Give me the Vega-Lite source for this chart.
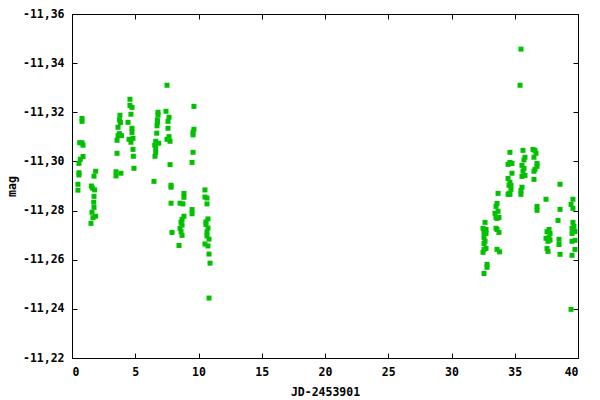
{
  "$schema": "https://vega.github.io/schema/vega-lite/v6.json",
  "autosize": {"type": "none"},
  "padding": {"left": 72, "top": 14, "right": 22, "bottom": 42},
  "width": 506,
  "height": 344,
  "background": "white",
  "config": {
    "view": {"stroke": "black", "strokeWidth": 1},
    "axis": {
      "labelFont": "DejaVu Sans Mono", "labelFontWeight": "bold", "labelFontSize": 11.5, "labelColor": "black",
      "titleFont": "DejaVu Sans Mono", "titleFontWeight": "bold", "titleFontSize": 11.5, "titleColor": "black",
      "grid": false, "domain": false, "tickColor": "black", "tickSize": -5, "tickWidth": 1
    }
  },
  "data": {"values": [
    {"jd": 0.79, "mag": -11.3175}, {"jd": 0.79, "mag": -11.3163}, {"jd": 0.61, "mag": -11.3076}, {"jd": 0.79, "mag": -11.3076},
    {"jd": 0.87, "mag": -11.3066}, {"jd": 0.87, "mag": -11.3020}, {"jd": 0.66, "mag": -11.3009}, {"jd": 0.55, "mag": -11.2992},
    {"jd": 0.55, "mag": -11.2954}, {"jd": 0.55, "mag": -11.2945}, {"jd": 0.47, "mag": -11.2907}, {"jd": 0.47, "mag": -11.2883},
    {"jd": 1.87, "mag": -11.2960}, {"jd": 1.74, "mag": -11.2940}, {"jd": 1.53, "mag": -11.2900}, {"jd": 1.61, "mag": -11.2891},
    {"jd": 1.79, "mag": -11.2884}, {"jd": 1.74, "mag": -11.2858}, {"jd": 1.72, "mag": -11.2834}, {"jd": 1.74, "mag": -11.2813},
    {"jd": 1.58, "mag": -11.2793}, {"jd": 1.87, "mag": -11.2777}, {"jd": 1.66, "mag": -11.2771}, {"jd": 1.50, "mag": -11.2748},
    {"jd": 3.79, "mag": -11.3188}, {"jd": 3.75, "mag": -11.3169}, {"jd": 3.83, "mag": -11.3158}, {"jd": 3.64, "mag": -11.3139},
    {"jd": 3.75, "mag": -11.3113}, {"jd": 3.91, "mag": -11.3105}, {"jd": 3.64, "mag": -11.3105}, {"jd": 3.56, "mag": -11.3086},
    {"jd": 3.56, "mag": -11.3033}, {"jd": 3.48, "mag": -11.2958}, {"jd": 3.48, "mag": -11.2941}, {"jd": 3.87, "mag": -11.2952},
    {"jd": 4.58, "mag": -11.3253}, {"jd": 4.58, "mag": -11.3228}, {"jd": 4.74, "mag": -11.3220}, {"jd": 4.66, "mag": -11.3192},
    {"jd": 4.43, "mag": -11.3159}, {"jd": 4.74, "mag": -11.3135}, {"jd": 4.74, "mag": -11.3118}, {"jd": 4.51, "mag": -11.3090},
    {"jd": 4.82, "mag": -11.3094}, {"jd": 4.66, "mag": -11.3078}, {"jd": 4.82, "mag": -11.3049}, {"jd": 4.85, "mag": -11.3021},
    {"jd": 4.90, "mag": -11.2972},
    {"jd": 6.80, "mag": -11.3200}, {"jd": 6.80, "mag": -11.3189}, {"jd": 6.75, "mag": -11.3169}, {"jd": 6.75, "mag": -11.3159},
    {"jd": 6.72, "mag": -11.3145}, {"jd": 6.70, "mag": -11.3115}, {"jd": 6.62, "mag": -11.3082}, {"jd": 6.85, "mag": -11.3074},
    {"jd": 6.54, "mag": -11.3066}, {"jd": 6.62, "mag": -11.3053}, {"jd": 6.62, "mag": -11.3037}, {"jd": 6.56, "mag": -11.3021},
    {"jd": 6.48, "mag": -11.2919},
    {"jd": 7.51, "mag": -11.3310}, {"jd": 7.43, "mag": -11.3204}, {"jd": 7.67, "mag": -11.3180}, {"jd": 7.59, "mag": -11.3163},
    {"jd": 7.59, "mag": -11.3135}, {"jd": 7.67, "mag": -11.3101}, {"jd": 7.51, "mag": -11.3090}, {"jd": 7.75, "mag": -11.3082},
    {"jd": 7.75, "mag": -11.2987}, {"jd": 7.83, "mag": -11.2903}, {"jd": 7.83, "mag": -11.2895}, {"jd": 7.83, "mag": -11.2830},
    {"jd": 7.91, "mag": -11.2711}, {"jd": 8.46, "mag": -11.2658},
    {"jd": 8.85, "mag": -11.2870}, {"jd": 8.85, "mag": -11.2854}, {"jd": 8.77, "mag": -11.2827}, {"jd": 8.54, "mag": -11.2830},
    {"jd": 8.85, "mag": -11.2777}, {"jd": 8.70, "mag": -11.2764}, {"jd": 8.62, "mag": -11.2752}, {"jd": 8.70, "mag": -11.2741},
    {"jd": 8.54, "mag": -11.2728}, {"jd": 8.62, "mag": -11.2714}, {"jd": 8.70, "mag": -11.2699},
    {"jd": 9.64, "mag": -11.3224}, {"jd": 9.64, "mag": -11.3131}, {"jd": 9.57, "mag": -11.3119}, {"jd": 9.57, "mag": -11.3108},
    {"jd": 9.57, "mag": -11.3037}, {"jd": 9.49, "mag": -11.2996}, {"jd": 9.49, "mag": -11.2804}, {"jd": 9.49, "mag": -11.2787},
    {"jd": 10.51, "mag": -11.2884}, {"jd": 10.51, "mag": -11.2855}, {"jd": 10.67, "mag": -11.2851}, {"jd": 10.67, "mag": -11.2827},
    {"jd": 10.75, "mag": -11.2766}, {"jd": 10.59, "mag": -11.2754}, {"jd": 10.59, "mag": -11.2743}, {"jd": 10.75, "mag": -11.2729},
    {"jd": 10.67, "mag": -11.2713}, {"jd": 10.67, "mag": -11.2697}, {"jd": 10.83, "mag": -11.2684}, {"jd": 10.51, "mag": -11.2664},
    {"jd": 10.75, "mag": -11.2656}, {"jd": 10.83, "mag": -11.2623}, {"jd": 10.91, "mag": -11.2586}, {"jd": 10.83, "mag": -11.2444},
    {"jd": 32.65, "mag": -11.2752}, {"jd": 32.49, "mag": -11.2728}, {"jd": 32.73, "mag": -11.2723}, {"jd": 32.57, "mag": -11.2711},
    {"jd": 32.73, "mag": -11.2707}, {"jd": 32.57, "mag": -11.2691}, {"jd": 32.65, "mag": -11.2675}, {"jd": 32.57, "mag": -11.2666},
    {"jd": 32.73, "mag": -11.2646}, {"jd": 32.57, "mag": -11.2642}, {"jd": 32.49, "mag": -11.2630}, {"jd": 32.81, "mag": -11.2581},
    {"jd": 32.81, "mag": -11.2569}, {"jd": 32.57, "mag": -11.2544},
    {"jd": 33.68, "mag": -11.2870}, {"jd": 33.60, "mag": -11.2829}, {"jd": 33.52, "mag": -11.2817}, {"jd": 33.68, "mag": -11.2797},
    {"jd": 33.44, "mag": -11.2789}, {"jd": 33.52, "mag": -11.2772}, {"jd": 33.75, "mag": -11.2772}, {"jd": 33.60, "mag": -11.2768},
    {"jd": 33.52, "mag": -11.2728}, {"jd": 33.60, "mag": -11.2723}, {"jd": 33.75, "mag": -11.2711}, {"jd": 33.60, "mag": -11.2642},
    {"jd": 33.80, "mag": -11.2632},
    {"jd": 34.62, "mag": -11.3037}, {"jd": 34.47, "mag": -11.2988}, {"jd": 34.62, "mag": -11.2996}, {"jd": 34.78, "mag": -11.2992},
    {"jd": 34.78, "mag": -11.2952}, {"jd": 34.47, "mag": -11.2931}, {"jd": 34.62, "mag": -11.2915}, {"jd": 34.70, "mag": -11.2903},
    {"jd": 34.55, "mag": -11.2903}, {"jd": 34.70, "mag": -11.2886}, {"jd": 34.55, "mag": -11.2870}, {"jd": 34.47, "mag": -11.2866},
    {"jd": 34.62, "mag": -11.2866},
    {"jd": 35.49, "mag": -11.3457}, {"jd": 35.42, "mag": -11.3310}, {"jd": 35.65, "mag": -11.3045}, {"jd": 35.81, "mag": -11.3017},
    {"jd": 35.73, "mag": -11.3006}, {"jd": 35.57, "mag": -11.2984}, {"jd": 35.73, "mag": -11.2972}, {"jd": 35.65, "mag": -11.2960},
    {"jd": 35.81, "mag": -11.2943}, {"jd": 35.57, "mag": -11.2939}, {"jd": 35.57, "mag": -11.2895}, {"jd": 35.49, "mag": -11.2882},
    {"jd": 35.49, "mag": -11.2866},
    {"jd": 36.44, "mag": -11.3049}, {"jd": 36.60, "mag": -11.3045}, {"jd": 36.68, "mag": -11.3033}, {"jd": 36.52, "mag": -11.3017},
    {"jd": 36.76, "mag": -11.2992}, {"jd": 36.76, "mag": -11.2980}, {"jd": 36.60, "mag": -11.2968}, {"jd": 36.52, "mag": -11.2960},
    {"jd": 36.52, "mag": -11.2927}, {"jd": 36.76, "mag": -11.2817}, {"jd": 36.76, "mag": -11.2801},
    {"jd": 37.47, "mag": -11.2846},
    {"jd": 37.71, "mag": -11.2723}, {"jd": 37.55, "mag": -11.2714}, {"jd": 37.79, "mag": -11.2707}, {"jd": 37.47, "mag": -11.2687},
    {"jd": 37.71, "mag": -11.2691}, {"jd": 37.79, "mag": -11.2680}, {"jd": 37.63, "mag": -11.2675}, {"jd": 37.55, "mag": -11.2646},
    {"jd": 37.63, "mag": -11.2634},
    {"jd": 38.58, "mag": -11.2907}, {"jd": 38.58, "mag": -11.2805}, {"jd": 38.42, "mag": -11.2760}, {"jd": 38.50, "mag": -11.2683},
    {"jd": 38.50, "mag": -11.2662}, {"jd": 38.58, "mag": -11.2622},
    {"jd": 39.60, "mag": -11.2846}, {"jd": 39.45, "mag": -11.2825}, {"jd": 39.60, "mag": -11.2809}, {"jd": 39.60, "mag": -11.2752},
    {"jd": 39.68, "mag": -11.2736}, {"jd": 39.53, "mag": -11.2728}, {"jd": 39.68, "mag": -11.2715}, {"jd": 39.53, "mag": -11.2707},
    {"jd": 39.76, "mag": -11.2715}, {"jd": 39.76, "mag": -11.2679}, {"jd": 39.53, "mag": -11.2675}, {"jd": 39.76, "mag": -11.2642},
    {"jd": 39.53, "mag": -11.2618}, {"jd": 39.45, "mag": -11.2398}
  ]},
  "layer": [
    {
      "mark": {"type": "point", "shape": "square", "filled": true, "size": 25, "color": "#00c000", "opacity": 1, "strokeWidth": 0},
      "encoding": {
        "x": {"field": "jd", "type": "quantitative", "scale": {"domain": [0, 40], "nice": false, "zero": false},
              "axis": {"values": [0, 5, 10, 15, 20, 25, 30, 35, 40], "title": "JD-2453901", "labelPadding": 13, "titlePadding": 9}},
        "y": {"field": "mag", "type": "quantitative", "scale": {"domain": [-11.36, -11.22], "reverse": true, "nice": false, "zero": false},
              "axis": {"values": [-11.36, -11.34, -11.32, -11.30, -11.28, -11.26, -11.24, -11.22], "title": "mag",
                       "labelExpr": "'-' + replace(format(abs(datum.value), '.2f'), '.', ',')", "labelPadding": 13, "titlePadding": 5}}
      }
    },
    {
      "mark": {"type": "point", "opacity": 0},
      "encoding": {
        "x": {"field": "jd", "type": "quantitative",
              "axis": {"orient": "top", "values": [0, 5, 10, 15, 20, 25, 30, 35, 40], "labels": false, "title": null}},
        "y": {"field": "mag", "type": "quantitative",
              "axis": {"orient": "right", "values": [-11.36, -11.34, -11.32, -11.30, -11.28, -11.26, -11.24, -11.22], "labels": false, "title": null}}
      }
    }
  ],
  "resolve": {"axis": {"x": "independent", "y": "independent"}}
}
